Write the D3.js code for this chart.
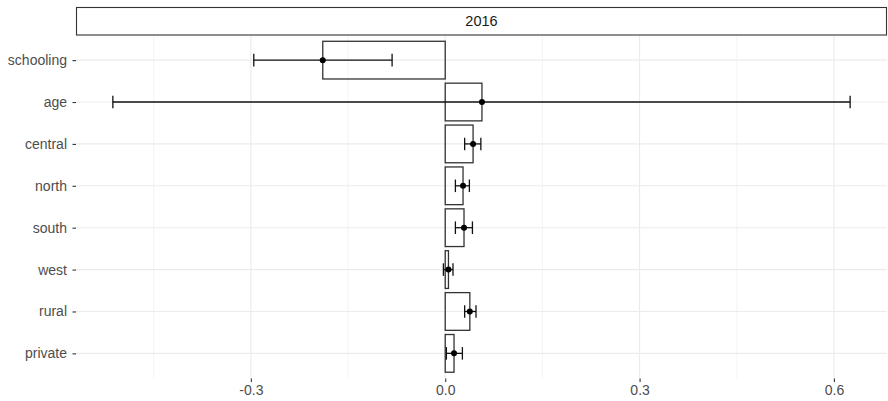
<!DOCTYPE html>
<html>
<head>
<meta charset="utf-8">
<script src="https://cdn.jsdelivr.net/npm/d3@7"></script>
<style>
  html, body { margin: 0; padding: 0; background: #fff; }
  svg { display: block; font-family: "Liberation Sans", Arial, sans-serif; }
</style>
</head>
<body>
<svg id="chart" width="888" height="401"></svg>
<script>
// Coefficient estimates with confidence intervals, 2016
const facetLabel = "2016";
const terms    = ["schooling", "age", "central", "north", "south", "west", "rural", "private"];
const estimate = [-0.189, 0.0567, 0.043, 0.0275, 0.029, 0.005, 0.038, 0.0136];
const lower    = [-0.2955, -0.513, 0.030, 0.0157, 0.0157, -0.0028, 0.030, 0.0018];
const upper    = [-0.082, 0.625, 0.055, 0.0373, 0.042, 0.012, 0.0475, 0.0265];
const xTicks   = [-0.3, 0.0, 0.3, 0.6];
const xMinor   = [-0.45, -0.15, 0.15, 0.45];

const rows = terms.map((t, i) => ({ term: t, est: estimate[i], lo: lower[i], hi: upper[i] }));

const panel = { left: 76, right: 887, top: 35, bottom: 378.5 };
const strip = { top: 7, bottom: 34.5 };

const svg = d3.select("#chart");

// x extent expanded by 5% on both sides
const lo = d3.min(lower), hi = d3.max(upper);
const pad = (hi - lo) * 0.05;
const x = d3.scaleLinear().domain([lo - pad, hi + pad]).range([panel.left, panel.right]);
const y = d3.scalePoint().domain(terms).range([panel.top, panel.bottom]).padding(0.6);
const step = y.step();

// grid
const grid = svg.append("g");
grid.selectAll(".minor").data(xMinor).join("line")
  .attr("x1", d => x(d)).attr("x2", d => x(d))
  .attr("y1", panel.top).attr("y2", panel.bottom)
  .attr("stroke", "#ebebeb").attr("stroke-width", 0.55);
grid.selectAll(".majorx").data(xTicks).join("line")
  .attr("x1", d => x(d)).attr("x2", d => x(d))
  .attr("y1", panel.top).attr("y2", panel.bottom)
  .attr("stroke", "#ebebeb").attr("stroke-width", 1.1);
grid.selectAll(".majory").data(terms).join("line")
  .attr("x1", panel.left).attr("x2", panel.right)
  .attr("y1", d => y(d)).attr("y2", d => y(d))
  .attr("stroke", "#ebebeb").attr("stroke-width", 1.1);

// bars
svg.append("g").selectAll("rect").data(rows).join("rect")
  .attr("x", d => Math.min(x(0), x(d.est)))
  .attr("width", d => Math.abs(x(d.est) - x(0)))
  .attr("y", d => y(d.term) - step * 0.45)
  .attr("height", step * 0.9)
  .attr("fill", "none").attr("stroke", "#333333").attr("stroke-width", 1.3);

// error bars
const eb = svg.append("g").attr("stroke", "#111").attr("stroke-width", 1.3).attr("fill", "none");
const cap = step * 0.15;
rows.forEach(d => {
  const cy = y(d.term);
  eb.append("line").attr("x1", x(d.lo)).attr("x2", x(d.hi)).attr("y1", cy).attr("y2", cy);
  eb.append("line").attr("x1", x(d.lo)).attr("x2", x(d.lo)).attr("y1", cy - cap).attr("y2", cy + cap);
  eb.append("line").attr("x1", x(d.hi)).attr("x2", x(d.hi)).attr("y1", cy - cap).attr("y2", cy + cap);
});

// points
svg.append("g").selectAll("circle").data(rows).join("circle")
  .attr("cx", d => x(d.est)).attr("cy", d => y(d.term))
  .attr("r", 3).attr("fill", "#000");

// strip
svg.append("rect")
  .attr("x", panel.left + 0.5).attr("y", strip.top + 0.5)
  .attr("width", panel.right - panel.left - 1).attr("height", strip.bottom - strip.top)
  .attr("fill", "#fff").attr("stroke", "#333").attr("stroke-width", 1.1);
svg.append("text")
  .attr("x", (panel.left + panel.right) / 2).attr("y", (strip.top + strip.bottom) / 2 + 1)
  .attr("text-anchor", "middle").attr("dominant-baseline", "middle")
  .attr("font-size", 14.5).attr("fill", "#1a1a1a").text(facetLabel);

// axes
const fmt = d3.format(".1f");
const xAxis = svg.append("g").attr("transform", `translate(0,${panel.bottom})`)
  .call(d3.axisBottom(x).tickValues(xTicks).tickFormat(d => fmt(d).replace("−", "-")).tickSize(3.5).tickPadding(3.5));
const yAxis = svg.append("g").attr("transform", `translate(${panel.left},0)`)
  .call(d3.axisLeft(y).tickSize(3.5).tickPadding(5.5));
[xAxis, yAxis].forEach(a => {
  a.select(".domain").remove();
  a.selectAll(".tick line").attr("stroke", "#333").attr("stroke-width", 1.1);
  a.selectAll(".tick text").attr("fill", "#4d4d4d").attr("font-size", 14)
    .attr("font-family", "'Liberation Sans', Arial, sans-serif");
});
</script>
</body>
</html>
